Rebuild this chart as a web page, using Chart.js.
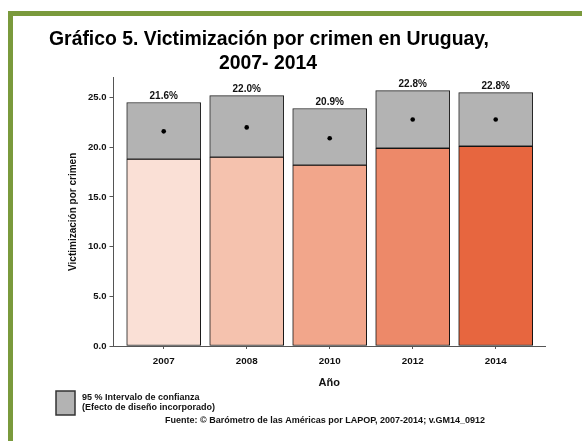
<!DOCTYPE html>
<html lang="es">
<head>
    <meta charset="UTF-8">
    <title>Victimización por crimen en Uruguay</title>
    <script src="https://cdn.jsdelivr.net/npm/chart.js"></script>
    <style>
        body { margin: 0; background: #ffffff; }
        #frame {
            position: absolute;
            left: 8px; top: 11px; right: 0; bottom: 0;
            border-left: 5px solid #7a9a3c;
            border-top: 5px solid #7a9a3c;
        }
        #chart { position: absolute; left: 0; top: 0; }
    </style>
</head>
<body>
    <div id="frame"></div>
    <canvas id="chart" width="582" height="441"></canvas>

    <script>
        // data
        const years = ['2007', '2008', '2010', '2012', '2014'];
        const means = [21.6, 22.0, 20.9, 22.8, 22.8];
        const lower = [18.8, 19.0, 18.2, 19.9, 20.1];
        const upper = [24.5, 25.2, 23.9, 25.7, 25.5];
        const yTicks = [0, 5, 10, 15, 20, 25];

        const barColors = ['#fae0d6', '#f5c2ae', '#f2a68b', '#ed8969', '#e7663f'];
        const font = '"Liberation Sans", Arial, sans-serif';

        // title, value labels, legend box and source note
        const textPlugin = {
            id: 'textPlugin',
            afterDraw(chart) {
                const ctx = chart.ctx;
                const x = chart.scales.x;
                const y = chart.scales.y;
                ctx.save();
                ctx.fillStyle = '#000';

                ctx.font = 'bold 19.4px ' + font;
                ctx.textAlign = 'center';
                ctx.textBaseline = 'alphabetic';
                ctx.fillText('Gráfico 5. Victimización por crimen en Uruguay,', 269, 45);
                ctx.fillText('2007- 2014', 268, 69);

                ctx.font = 'bold 10px ' + font;
                ctx.textBaseline = 'middle';
                ctx.fillStyle = '#111';
                years.forEach((yr, i) => {
                    ctx.fillText(means[i].toFixed(1) + '%', x.getPixelForValue(i), y.getPixelForValue(upper[i]) - 6.5);
                });

                ctx.fillStyle = '#b3b3b3';
                ctx.fillRect(56, 391, 19, 24);
                ctx.strokeStyle = '#333';
                ctx.lineWidth = 1.5;
                ctx.strokeRect(56, 391, 19, 24);

                ctx.fillStyle = '#111';
                ctx.font = 'bold 9px ' + font;
                ctx.textAlign = 'left';
                ctx.fillText('95 % Intervalo de confianza', 82, 398);
                ctx.fillText('(Efecto de diseño incorporado)', 82, 408);
                ctx.textAlign = 'right';
                ctx.fillText('Fuente: © Barómetro de las Américas por LAPOP, 2007-2014; v.GM14_0912', 485, 421);
                ctx.restore();
            }
        };

        new Chart(document.getElementById('chart'), {
            data: {
                datasets: [
                    {
                        type: 'bar',
                        order: 2,
                        data: years.map((yr, i) => ({ x: i, y: [0, lower[i]] })),
                        backgroundColor: barColors,
                        borderColor: '#111',
                        borderWidth: 1,
                        borderSkipped: false,
                        barThickness: 74,
                        grouped: false
                    },
                    {
                        type: 'bar',
                        order: 1,
                        data: years.map((yr, i) => ({ x: i, y: [lower[i], upper[i]] })),
                        backgroundColor: '#b3b3b3',
                        borderColor: '#222',
                        borderWidth: 1,
                        borderSkipped: false,
                        barThickness: 74,
                        grouped: false
                    },
                    {
                        type: 'scatter',
                        order: 0,
                        data: years.map((yr, i) => ({ x: i, y: means[i] })),
                        pointRadius: 2.3,
                        pointBackgroundColor: '#000',
                        pointBorderWidth: 0
                    }
                ]
            },
            options: {
                responsive: false,
                animation: false,
                layout: { padding: { top: 77.7, right: 37, bottom: 51.4, left: 0 } },
                plugins: {
                    legend: { display: false },
                    tooltip: { enabled: false }
                },
                scales: {
                    x: {
                        type: 'linear',
                        offset: false,
                        min: -0.605,
                        max: 4.594,
                        afterBuildTicks: scale => { scale.ticks = years.map((yr, i) => ({ value: i })); },
                        afterFit: scale => { scale.height = 43.6; },
                        ticks: {
                            callback: v => years[v],
                            color: '#111',
                            padding: 6,
                            maxRotation: 0,
                            autoSkip: false,
                            font: { family: font, size: 9.8, weight: 'bold' }
                        },
                        grid: { offset: false, drawOnChartArea: false, tickLength: 3, tickColor: '#555' },
                        border: { color: '#555', width: 1 },
                        title: {
                            display: true,
                            text: 'Año',
                            color: '#111',
                            padding: 0,
                            font: { family: font, size: 11, weight: 'bold' }
                        }
                    },
                    y: {
                        min: 0,
                        max: 27,
                        afterBuildTicks: scale => { scale.ticks = yTicks.map(v => ({ value: v })); },
                        afterFit: scale => { scale.width = 113.5; },
                        ticks: {
                            callback: v => v.toFixed(1),
                            color: '#111',
                            padding: 3,
                            font: { family: font, size: 9.5, weight: 'bold' }
                        },
                        grid: { drawOnChartArea: false, tickLength: 4, tickColor: '#555' },
                        border: { color: '#555', width: 1 },
                        title: {
                            display: true,
                            text: 'Victimización por crimen',
                            color: '#111',
                            padding: { top: 67.3, bottom: 0 },
                            font: { family: font, size: 10, weight: 'bold' }
                        }
                    }
                }
            },
            plugins: [textPlugin]
        });
    </script>
</body>
</html>
